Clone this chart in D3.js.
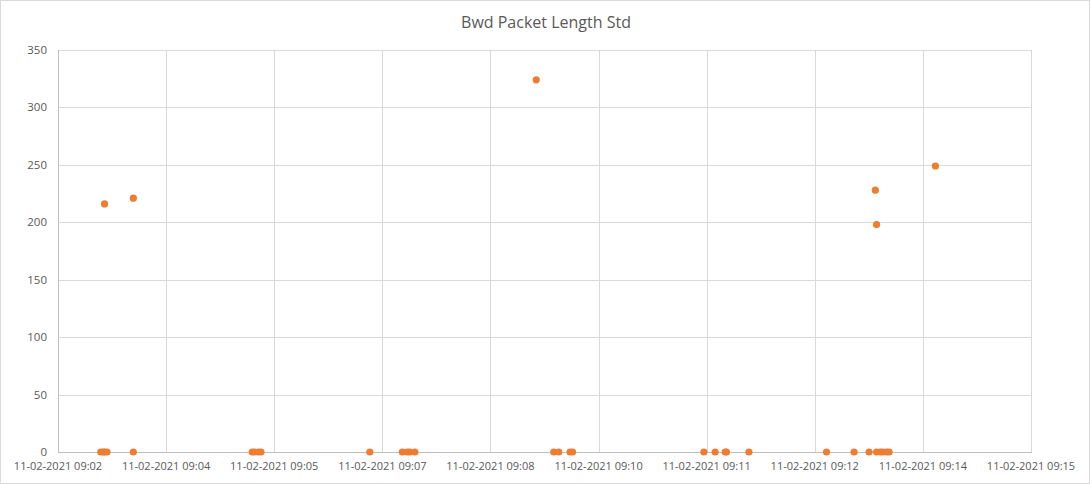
<!DOCTYPE html>
<html>
<head>
<meta charset="utf-8">
<script src="https://cdn.jsdelivr.net/npm/d3@7"></script>
<style>
  html, body { margin: 0; padding: 0; background: #fff; }
  svg { display: block; }
  text { font-family: "Open Sans", "Liberation Sans", sans-serif; fill: #595959; }
</style>
</head>
<body>
<svg id="chart" width="1090" height="484"></svg>
<script>
const title = "Bwd Packet Length Std";
const dateLabel = "11-02-2021";
// Observation times (hh:mm:ss) and values
const times = [
  "09:03:27","09:03:29","09:03:30","09:03:32","09:03:30","09:03:53","09:03:53",
  "09:05:28","09:05:30","09:05:33","09:05:35",
  "09:07:02","09:07:28","09:07:32","09:07:34","09:07:38",
  "09:09:15","09:09:29","09:09:33","09:09:42","09:09:44",
  "09:11:29","09:11:38","09:11:46","09:11:47","09:12:05",
  "09:13:07","09:13:29","09:13:41","09:13:46","09:13:47","09:13:47",
  "09:13:50","09:13:52","09:13:55","09:13:57","09:14:34"
];
const values = [
  0,0,0,0,216,221,0,
  0,0,0,0,
  0,0,0,0,0,
  324,0,0,0,0,
  0,0,0,0,0,
  0,0,0,228,198,0,
  0,0,0,0,249
];
// Axis ticks (Excel major unit 0.001 day)
const xTickTimes = ["09:02:52.8","09:04:19.2","09:05:45.6","09:07:12.0","09:08:38.4",
                    "09:10:04.8","09:11:31.2","09:12:57.6","09:14:24.0","09:15:50.4"];
const xTickLabels = ["09:02","09:04","09:05","09:07","09:08","09:10","09:11","09:12","09:14","09:15"];
const yTicks = [0, 50, 100, 150, 200, 250, 300, 350];

const toSec = s => { const p = s.split(":"); return (+p[0])*3600 + (+p[1])*60 + (+p[2]); };

const svg = d3.select("#chart");
const W = 1090, H = 484;
const mLeft = 58, mRight = 1031, mTop = 50, mBottom = 452;

svg.append("rect").attr("x", 0.5).attr("y", 0.5).attr("width", W - 1).attr("height", H - 1)
  .attr("fill", "#fff").attr("stroke", "#d9d9d9");

const tickSecs = xTickTimes.map(toSec);
const x = d3.scaleLinear().domain([tickSecs[0], tickSecs[tickSecs.length - 1]]).range([mLeft, mRight]);
const y = d3.scaleLinear().domain([0, 350]).range([mBottom, mTop]);

// Horizontal gridlines
svg.append("g").selectAll("line").data(yTicks.filter(d => d > 0)).join("line")
  .attr("x1", mLeft).attr("x2", mRight)
  .attr("y1", d => Math.round(y(d)) + 0.5).attr("y2", d => Math.round(y(d)) + 0.5)
  .attr("stroke", "#d9d9d9").attr("stroke-width", 1);
// Vertical gridlines
svg.append("g").selectAll("line").data(tickSecs.slice(1)).join("line")
  .attr("x1", d => Math.round(x(d)) + 0.5).attr("x2", d => Math.round(x(d)) + 0.5)
  .attr("y1", mTop).attr("y2", mBottom)
  .attr("stroke", "#d9d9d9").attr("stroke-width", 1);

// Axes lines
svg.append("line").attr("x1", mLeft + 0.5).attr("x2", mLeft + 0.5).attr("y1", mTop).attr("y2", mBottom)
  .attr("stroke", "#bfbfbf");
svg.append("line").attr("x1", mLeft).attr("x2", mRight + 1).attr("y1", mBottom + 0.5).attr("y2", mBottom + 0.5)
  .attr("stroke", "#bfbfbf");

// Y tick labels
svg.append("g").selectAll("text").data(yTicks).join("text")
  .attr("x", 47).attr("y", d => y(d) + 4)
  .attr("text-anchor", "end").attr("font-size", "11.5px")
  .text(d => d);

// X tick labels
svg.append("g").selectAll("text").data(tickSecs).join("text")
  .attr("x", d => x(d)).attr("y", 470)
  .attr("text-anchor", "middle").attr("font-size", "11px")
  .text((d, i) => dateLabel + " " + xTickLabels[i]);

// Title
svg.append("text").attr("x", 546).attr("y", 28).attr("text-anchor", "middle")
  .attr("font-size", "16px").text(title);

// Points
const pts = times.map((t, i) => ({ t: toSec(t), v: values[i] }));
svg.append("g").selectAll("circle").data(pts).join("circle")
  .attr("cx", d => x(d.t)).attr("cy", d => y(d.v)).attr("r", 3.6)
  .attr("fill", "#ED7D31");
</script>
</body>
</html>
